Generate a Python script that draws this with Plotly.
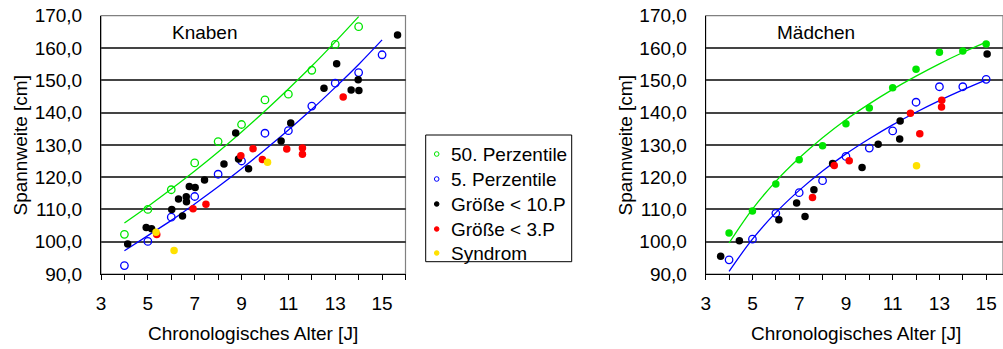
import plotly.graph_objects as go

# ---- Knaben (boys) ----
k_p50_age = [4, 5, 6, 7, 8, 9, 10, 11, 12, 13, 14]
k_p50 = [102.3, 110.0, 116.1, 124.4, 131.0, 136.3, 143.9, 145.7, 153.1, 161.1, 166.6]
k_p5_age = [4, 5, 6, 7, 8, 9, 10, 11, 12, 13, 14, 15]
k_p5 = [92.6, 100.1, 107.6, 114.0, 120.9, 125.0, 133.6, 134.4, 142.0, 149.1, 152.4, 157.9]
k_lt10_age = [4.14, 4.93, 5.16, 6.02, 6.31, 6.48, 6.64, 6.65, 6.77, 7.02, 7.42, 8.25,
              8.75, 8.87, 9.30, 10.69, 11.10, 12.52, 13.06, 13.68, 13.98, 14.01, 15.66]
k_lt10 = [99.3, 104.4, 104.0, 110.0, 113.2, 108.0, 113.9, 112.4, 117.1, 116.8, 119.1, 124.1,
          133.7, 125.6, 122.6, 131.2, 136.8, 147.5, 155.1, 147.0, 150.2, 146.8, 164.0]
k_lt3_age = [5.38, 6.93, 7.48, 8.97, 9.49, 9.89, 10.93, 11.60, 11.60, 13.34]
k_lt3 = [102.2, 110.2, 111.6, 126.6, 128.8, 125.5, 128.7, 129.0, 127.1, 144.8]
k_syn_age = [5.35, 6.12, 10.11]
k_syn = [102.9, 97.3, 124.6]
# trend curves of the percentile series
k_p50_trend_age = [4, 5, 6, 7, 8, 9, 10, 11, 12, 13, 14]
k_p50_trend = [105.8, 110.9, 116.3, 121.9, 127.8, 134.0, 140.5, 147.3, 154.4, 161.9, 169.7]
k_p5_trend_age = [4, 5, 6, 7, 8, 9, 10, 11, 12, 13, 14, 15]
k_p5_trend = [97.2, 101.9, 106.6, 111.7, 117.0, 122.6, 128.5, 134.6, 141.0, 147.8, 154.9, 162.5]

# ---- Mädchen (girls) ----
m_p50_age = [4, 5, 6, 7, 8, 9, 10, 11, 12, 13, 14, 15]
m_p50 = [102.7, 109.5, 117.9, 125.4, 129.7, 136.5, 141.4, 147.7, 153.4, 158.7, 159.1, 161.2]
m_p5_age = [4, 5, 6, 7, 8, 9, 10, 11, 12, 13, 14, 15]
m_p5 = [94.4, 100.8, 108.8, 115.2, 118.9, 126.4, 129.0, 134.3, 143.2, 148.0, 148.0, 150.3]
m_lt10_age = [3.64, 4.44, 6.13, 6.89, 7.25, 7.63, 8.43, 9.69, 10.38, 11.30, 11.32, 15.04]
m_lt10 = [95.5, 100.3, 106.8, 112.0, 107.8, 116.1, 124.2, 123.0, 130.2, 131.8, 137.4, 158.1]
m_lt3_age = [7.57, 8.50, 9.14, 11.76, 12.16, 13.10, 13.09]
m_lt3 = [113.7, 123.6, 125.1, 139.8, 133.4, 143.8, 141.7]
m_syn_age = [12.02]
m_syn = [123.5]
m_p50_trend_age = [4, 5, 6, 7, 8, 9, 10, 11, 12, 13, 14, 15]
m_p50_trend = [99.6, 110.1, 118.7, 125.9, 132.2, 137.8, 142.7, 147.2, 151.3, 155.1, 158.6, 161.8]
m_p5_trend_age = [4, 5, 6, 7, 8, 9, 10, 11, 12, 13, 14, 15]
m_p5_trend = [90.8, 100.8, 109.0, 115.9, 121.9, 127.2, 131.9, 136.2, 140.1, 143.7, 147.0, 150.1]

series_names = ["50. Perzentile", "5. Perzentile", "Größe < 10.P", "Größe < 3.P", "Syndrom"]
GREEN, BLUE, BLACK, RED, YELLOW = "#00e600", "#0000ff", "#000000", "#ff0000", "#ffe100"
series_colors = [GREEN, BLUE, BLACK, RED, YELLOW]
legend_open = [True, True, False, False, False]

FONT = "Liberation Sans, Arial, sans-serif"
FS = 19

fig = go.Figure()


def scatter(x, y, color, name, xa, ya, open_marker):
    if open_marker:
        marker = dict(symbol="circle-open", size=7.5, color=color, line=dict(color=color, width=1.3))
    else:
        marker = dict(symbol="circle", size=7.5, color=color)
    fig.add_trace(go.Scatter(x=x, y=y, mode="markers", name=name, marker=marker,
                             xaxis=xa, yaxis=ya, showlegend=False, cliponaxis=False))


def trend(x, y, color, xa, ya):
    fig.add_trace(go.Scatter(x=x, y=y, mode="lines", line=dict(color=color, width=1.3, shape="spline"),
                             xaxis=xa, yaxis=ya, showlegend=False, hoverinfo="skip"))


# boys panel
trend(k_p50_trend_age, k_p50_trend, GREEN, "x", "y")
trend(k_p5_trend_age, k_p5_trend, BLUE, "x", "y")
scatter(k_p50_age, k_p50, GREEN, series_names[0], "x", "y", True)
scatter(k_p5_age, k_p5, BLUE, series_names[1], "x", "y", True)
scatter(k_lt10_age, k_lt10, BLACK, series_names[2], "x", "y", False)
scatter(k_lt3_age, k_lt3, RED, series_names[3], "x", "y", False)
scatter(k_syn_age, k_syn, YELLOW, series_names[4], "x", "y", False)

# girls panel
trend(m_p50_trend_age, m_p50_trend, GREEN, "x2", "y2")
trend(m_p5_trend_age, m_p5_trend, BLUE, "x2", "y2")
scatter(m_p50_age, m_p50, GREEN, series_names[0], "x2", "y2", False)
scatter(m_p5_age, m_p5, BLUE, series_names[1], "x2", "y2", True)
scatter(m_lt10_age, m_lt10, BLACK, series_names[2], "x2", "y2", False)
scatter(m_lt3_age, m_lt3, RED, series_names[3], "x2", "y2", False)
scatter(m_syn_age, m_syn, YELLOW, series_names[4], "x2", "y2", False)

W, H = 1003, 349


def px(x):
    return x / W


def py(y):
    return 1 - y / H


xcommon = dict(tick0=3, dtick=2, ticks="outside", ticklen=5, tickcolor="black", tickwidth=1,
               minor=dict(tick0=3, dtick=1, ticks="outside", ticklen=5, tickcolor="black", tickwidth=1),
               showline=True, linecolor="black", linewidth=1, showgrid=False, zeroline=False,
               ticklabelstandoff=7,
               tickfont=dict(family=FONT, size=FS, color="black"), automargin=False)
ycommon = dict(range=[90, 170], dtick=10, tickformat=".1f", ticks="", showline=True,
               linecolor="black", linewidth=1, showgrid=True, gridcolor="#444444", gridwidth=1.5,
               zeroline=False, ticklabelstandoff=14, domain=[py(274), py(15.7)],
               tickfont=dict(family=FONT, size=FS, color="black"), automargin=False)

fig.update_layout(
    width=W, height=H, autosize=False, template="none",
    margin=dict(l=0, r=0, t=0, b=0),
    paper_bgcolor="white", plot_bgcolor="white",
    separators=",.",
    font=dict(family=FONT, size=FS, color="black"),
    showlegend=False,
    xaxis=dict(domain=[px(101), px(405.5)], range=[3, 16], anchor="y", **xcommon),
    yaxis=dict(anchor="x", **ycommon),
    xaxis2=dict(domain=[px(705.7), 1.0], range=[3, 15.72], anchor="y2", **xcommon),
    yaxis2=dict(anchor="x2", **ycommon),
)

shapes = []
# grey frame around each plot area
for xr, yr in (("x domain", "y domain"), ("x2 domain", "y2 domain")):
    shapes.append(dict(type="rect", xref=xr, yref=yr, x0=0, x1=1, y0=0, y1=1,
                       line=dict(color="#808080", width=1.2), layer="below"))

# legend box
shapes.append(dict(type="rect", xref="paper", yref="paper", x0=px(425.7), x1=px(571.7),
                   y0=py(261.7), y1=py(135), line=dict(color="black", width=1), fillcolor="white"))

annotations = [
    dict(text="Knaben", x=px(204.5), y=py(32), xref="paper", yref="paper", showarrow=False,
         xanchor="center", yanchor="middle", font=dict(size=FS)),
    dict(text="Mädchen", x=px(816), y=py(32), xref="paper", yref="paper", showarrow=False,
         xanchor="center", yanchor="middle", font=dict(size=FS)),
    dict(text="Spannweite [cm]", x=px(20), y=py(145.5), xref="paper", yref="paper", showarrow=False,
         textangle=-90, xanchor="center", yanchor="middle", font=dict(size=FS)),
    dict(text="Spannweite [cm]", x=px(625), y=py(145.5), xref="paper", yref="paper", showarrow=False,
         textangle=-90, xanchor="center", yanchor="middle", font=dict(size=FS)),
    dict(text="Chronologisches Alter [J]", x=px(253), y=py(333), xref="paper", yref="paper",
         showarrow=False, xanchor="center", yanchor="middle", font=dict(size=FS)),
    dict(text="Chronologisches Alter [J]", x=px(856), y=py(333), xref="paper", yref="paper",
         showarrow=False, xanchor="center", yanchor="middle", font=dict(size=FS)),
]

# legend entries: small circle symbol plus series name
row_y = [154, 179, 204, 229, 253]
for name, color, is_open, ry in zip(series_names, series_colors, legend_open, row_y):
    r = 2.3
    symbol = dict(type="circle", xref="paper", yref="paper", xsizemode="pixel", ysizemode="pixel",
                  xanchor=px(436.7), yanchor=py(ry), x0=-r, x1=r, y0=-r, y1=r,
                  line=dict(color=color, width=1))
    if not is_open:
        symbol["fillcolor"] = color
    shapes.append(symbol)
    annotations.append(dict(text=name, x=px(449), y=py(ry), xref="paper", yref="paper", showarrow=False,
                            xanchor="left", yanchor="middle", font=dict(size=FS)))

fig.update_layout(shapes=shapes, annotations=annotations)

fig.write_html("out.html")
